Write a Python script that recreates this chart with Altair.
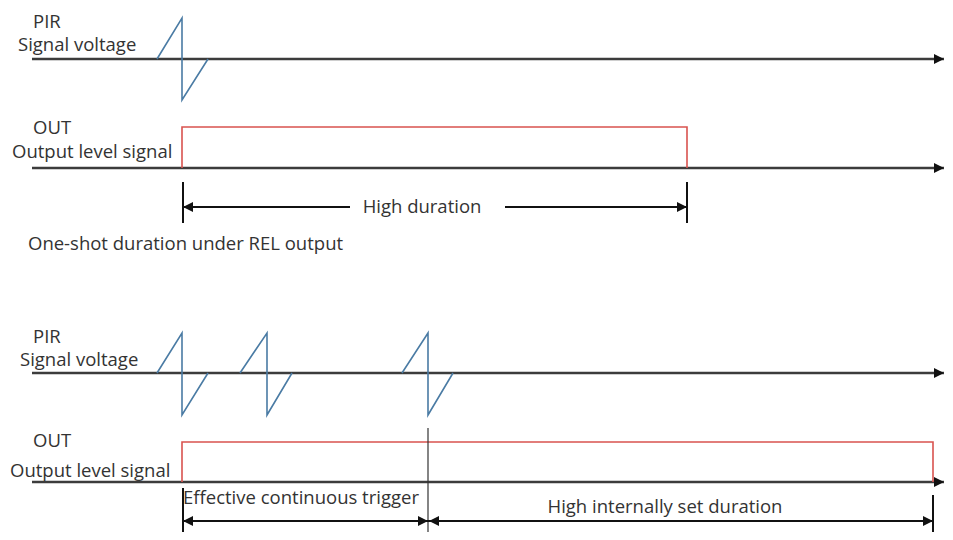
import altair as alt
import pandas as pd

# Coordinate frame of the diagram (time runs left->right, level top->bottom)
X_DOMAIN = [8, 945]
Y_DOMAIN = [8, 532]

# Lane baselines: PIR (one-shot), OUT (one-shot), PIR (retrigger), OUT (retrigger)
BASE_Y = [59, 168, 373, 482]
BASE_X0 = [32, 32, 32, 32]
BASE_X1 = [944, 944, 944, 944]

# PIR signal pulses (sawtooth shape points)
PULSE_ID = ["p1"] * 4 + ["p2"] * 4 + ["p3"] * 4 + ["p4"] * 4
PULSE_X = [157, 182, 182, 208,
           157, 182, 182, 208,
           240, 267, 267, 292,
           402, 428, 428, 453]
PULSE_Y = [59, 18, 100, 59,
           373, 333, 415, 373,
           373, 333, 415, 373,
           373, 333, 415, 373]

# OUT high-level pulses
OUT_ID = ["o1"] * 4 + ["o2"] * 4
OUT_X = [182, 182, 687, 687,
         182, 182, 933, 933]
OUT_Y = [168, 127, 127, 168,
         482, 442, 442, 482]

# Dimension segments (ticks and arrow shafts)
DIM_X = [183, 687, 183, 933, 183, 505, 183, 428]
DIM_Y = [182, 182, 488, 495, 207, 207, 521, 521]
DIM_X2 = [183, 687, 183, 933, 350, 687, 428, 933]
DIM_Y2 = [223, 223, 535, 535, 207, 207, 521, 521]

# Thin divider at the last effective trigger
DIV_X = [428]
DIV_Y = [428]
DIV_Y2 = [540]

# Arrow heads
ARROW_R_X = [687, 428, 933, 944, 944, 944, 944]
ARROW_R_Y = [207, 521, 521, 59, 168, 373, 482]
ARROW_L_X = [183, 183, 429]
ARROW_L_Y = [207, 521, 521]

# Text labels
LEFT_TEXT = ["PIR", "Signal voltage", "OUT", "Output level signal",
             "One-shot duration under REL output",
             "PIR", "Signal voltage", "OUT", "Output level signal"]
LEFT_X = [33, 18, 33, 12, 28, 33, 20, 33, 10]
LEFT_Y = [28, 51, 134, 158, 250, 343, 366, 447, 477]

CENTER_TEXT = ["High duration", "Effective continuous trigger",
               "High internally set duration"]
CENTER_X = [422, 301, 665]
CENTER_Y = [207, 498, 507]

FONT = "Open Sans"
TEXT_COLOR = "#333333"
FONT_SIZE = 18.5

xs = alt.Scale(domain=X_DOMAIN, nice=False, zero=False)
ys = alt.Scale(domain=Y_DOMAIN, nice=False, zero=False, reverse=True)
X = lambda f: alt.X(f, type="quantitative", scale=xs, axis=None)
Y = lambda f: alt.Y(f, type="quantitative", scale=ys, axis=None)

base_df = pd.DataFrame({"x": BASE_X0, "x2": BASE_X1, "y": BASE_Y})
pulse_df = pd.DataFrame({"id": PULSE_ID, "x": PULSE_X, "y": PULSE_Y,
                         "o": list(range(len(PULSE_X)))})
out_df = pd.DataFrame({"id": OUT_ID, "x": OUT_X, "y": OUT_Y,
                       "o": list(range(len(OUT_X)))})
dim_df = pd.DataFrame({"x": DIM_X, "y": DIM_Y, "x2": DIM_X2, "y2": DIM_Y2})
div_df = pd.DataFrame({"x": DIV_X, "y": DIV_Y, "y2": DIV_Y2})
ar_df = pd.DataFrame({"x": ARROW_R_X, "y": ARROW_R_Y})
al_df = pd.DataFrame({"x": ARROW_L_X, "y": ARROW_L_Y})
lt_df = pd.DataFrame({"t": LEFT_TEXT, "x": LEFT_X, "y": LEFT_Y})
ct_df = pd.DataFrame({"t": CENTER_TEXT, "x": CENTER_X, "y": CENTER_Y})

baselines = alt.Chart(base_df).mark_rule(color="#3c3c3c", strokeWidth=2.5).encode(
    x=X("x"), x2="x2", y=Y("y"))

pulses = alt.Chart(pulse_df).mark_line(color="#4a7ba4", strokeWidth=1.6).encode(
    x=X("x"), y=Y("y"), detail="id:N", order="o:Q")

outs = alt.Chart(out_df).mark_line(color="#d9534f", strokeWidth=1.6).encode(
    x=X("x"), y=Y("y"), detail="id:N", order="o:Q")

dims = alt.Chart(dim_df).mark_rule(color="#111111", strokeWidth=2).encode(
    x=X("x"), y=Y("y"), x2="x2", y2="y2")

divider = alt.Chart(div_df).mark_rule(color="#333333", strokeWidth=1.2).encode(
    x=X("x"), y=Y("y"), y2="y2")

arrow_r = alt.Chart(ar_df).mark_point(
    shape="M 0 0 L -1 -0.5 L -1 0.5 Z", filled=True, color="#111111",
    size=400, opacity=1, strokeWidth=0).encode(x=X("x"), y=Y("y"))

arrow_l = alt.Chart(al_df).mark_point(
    shape="M 0 0 L 1 -0.5 L 1 0.5 Z", filled=True, color="#111111",
    size=400, opacity=1, strokeWidth=0).encode(x=X("x"), y=Y("y"))

left_text = alt.Chart(lt_df).mark_text(
    align="left", baseline="alphabetic", font=FONT, fontSize=FONT_SIZE,
    color=TEXT_COLOR).encode(x=X("x"), y=Y("y"), text="t:N")

center_text = alt.Chart(ct_df).mark_text(
    align="center", baseline="middle", font=FONT, fontSize=FONT_SIZE,
    color=TEXT_COLOR).encode(x=X("x"), y=Y("y"), text="t:N")

chart = alt.layer(
    baselines, pulses, outs, divider, dims, arrow_r, arrow_l,
    left_text, center_text
).properties(
    width=937, height=524,
    autosize=alt.AutoSizeParams(type="none"),
    padding=0,
    background="white",
).configure_view(stroke=None)

chart.save("out.html", embed_options={"renderer": "svg", "actions": False})
